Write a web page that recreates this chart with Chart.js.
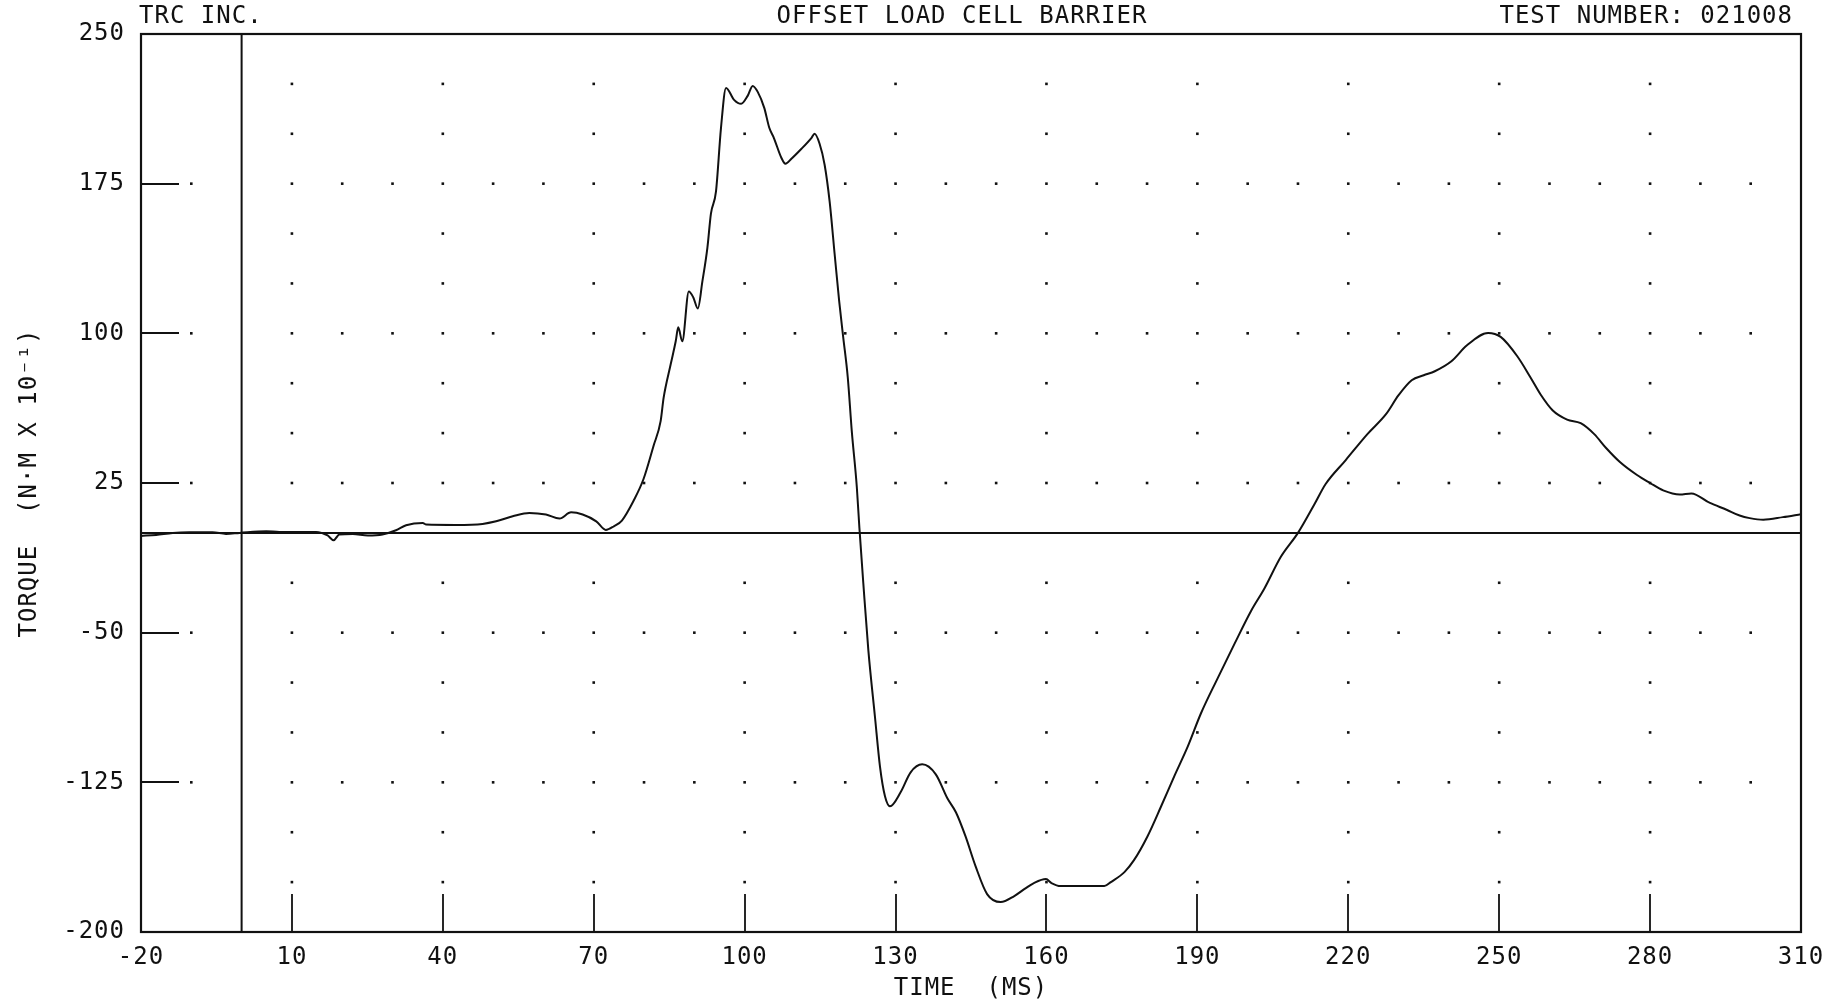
<!DOCTYPE html>
<html>
<head>
<meta charset="utf-8">
<title>Offset Load Cell Barrier - Torque</title>
<script src="https://cdn.jsdelivr.net/npm/chart.js@4.4.1/dist/chart.umd.min.js"></script>
<style>
  html, body { margin: 0; padding: 0; background: #fff; }
  canvas { display: block; }
</style>
</head>
<body>
<canvas id="torque-canvas" width="1846" height="1003"></canvas>
<script>
// time (ms) and torque (N*m x 10^-1) samples of the trace
var timeMs = [
  -20, -17, -13.7, -10.4, -5.8, -3.1, -0.4, 4.9, 7.5, 14.8,
  17.1, 18.3, 19.4, 22.1, 25.1, 28, 30.7, 32.7, 36, 36.7,
  42.6, 47.9, 50.6, 53.9, 57.2, 60.5, 63.2, 65.5, 67.8, 70.5,
  72.4, 74, 75.6, 77.9, 79.9, 81.9, 83.3, 83.9, 85.3, 86.3,
  86.8, 87.6, 88.9, 89.8, 90.7, 91.6, 92.6, 93.3, 94.3, 95.3,
  96.3, 97.9, 99.3, 100.6, 101.6, 102.6, 103.9, 104.9, 105.8, 107.3,
  108.1, 109.3, 111.3, 113.3, 113.9, 114.9, 115.9, 116.9, 117.9, 118.8,
  119.6, 120.5, 121.3, 122.3, 122.8, 123.6, 124.6, 125.9, 126.9, 127.9,
  128.9, 131, 133, 135.3, 138, 140.3, 142, 143.9, 145.9, 148.2,
  150.9, 153.6, 155.9, 157.5, 159.9, 161, 162.8, 166.8, 171.5, 172.8,
  175.5, 177.4, 180.1, 182.8, 185.4, 188.1, 190.7, 194, 197.4, 200.7,
  203.3, 206.6, 210, 213.3, 215.5, 219.5, 223.8, 227.5, 230, 232.6,
  235, 237.2, 240.5, 243.6, 247.8, 250.3, 253.6, 256.2, 258.2, 260.6,
  263.5, 266.2, 268.9, 271.3, 274, 277.4, 280, 282.6, 285.9, 288.2,
  291.9, 295.2, 297.8, 299.8, 302.5, 306.4, 310
];
var torque = [
  -1.5, -1, 0, 0.3, 0.3, -0.5, 0, 0.8, 0.5, 0.5,
  -1.3, -3.7, -0.8, -0.5, -1.3, -0.8, 1.3, 3.8, 5, 4.2,
  4, 4.5, 5.8, 8.3, 10, 9.2, 7.2, 10.3, 9.2, 5.8,
  1.5, 3.3, 6.2, 16, 27, 43.7, 56, 67.8, 84.5, 96,
  103, 96, 121, 118, 112.5, 126, 143, 160, 171, 203,
  223, 217, 215, 219, 224, 221, 213, 203, 198, 188,
  185, 187.5, 192.5, 198, 200, 195, 184.5, 166, 139.5, 116,
  98, 78, 51, 23, 3, -25.5, -59, -92, -117, -132,
  -137, -130, -120, -116, -121, -133, -140, -152, -167, -181,
  -185, -182, -178, -175.5, -173.5, -175.5, -177, -177, -177, -175,
  -170, -164, -152, -137, -122, -107, -90.5, -73, -55.5, -39,
  -28, -12, 0, 14.5, 24.5, 36.5, 49.5, 59.5, 69, 76.5,
  79, 81, 86, 94, 100.2, 98.2, 88.5, 78, 69.5, 61.5,
  56.8, 55, 49.5, 42.4, 35.5, 29, 25, 21.3, 19.2, 19.8,
  15, 11.6, 8.7, 7.4, 6.6, 7.9, 9.4
];

var xTickValues = [-20, 10, 40, 70, 100, 130, 160, 190, 220, 250, 280, 310];
var yTickValues = [-200, -125, -50, 25, 100, 175, 250];

// short tick marks drawn inside the frame
var xTickMarks = [10, 40, 70, 100, 130, 160, 190, 220, 250, 280];
var yTickMarks = [175, 100, 25, -50, -125];

// dot grid: labelled rows get a dot every 10 ms, the others only every 30 ms
var denseDotRows = [175, 100, 25, -50, -125];
var sparseDotRows = [225, 200, 150, 125, 75, 50, -25, -75, -100, -150, -175];
var denseDotCols = [-10, 10, 20, 30, 40, 50, 60, 70, 80, 90, 100, 110, 120, 130, 140, 150,
  160, 170, 180, 190, 200, 210, 220, 230, 240, 250, 260, 270, 280, 290, 300];
var sparseDotCols = [10, 40, 70, 100, 130, 160, 190, 220, 250, 280];

var headerLeft = "TRC INC.";
var headerCenter = "OFFSET LOAD CELL BARRIER";
var headerRight = "TEST NUMBER: 021008";

var INK = "#111";
var FONT = '"DejaVu Sans Mono", monospace';
var FONT_SIZE = 24;

Chart.defaults.font.family = FONT;
Chart.defaults.color = INK;

var points = [];
for (var i = 0; i < timeMs.length; i++) {
  points.push({ x: timeMs[i], y: torque[i] });
}

var plotterDecor = {
  id: "plotterDecor",
  beforeDraw: function(chart) {
    var ctx = chart.ctx;
    ctx.save();
    ctx.fillStyle = "#fff";
    ctx.fillRect(0, 0, chart.width, chart.height);
    ctx.restore();
    ctx.letterSpacing = "1px";
  },
  beforeDatasetsDraw: function(chart) {
    var ctx = chart.ctx;
    var xs = chart.scales.x, ys = chart.scales.y;
    var area = chart.chartArea;
    var tickLen = 38;
    ctx.save();

    // dots
    ctx.fillStyle = INK;
    function dot(t, v) {
      var px = xs.getPixelForValue(t), py = ys.getPixelForValue(v);
      ctx.fillRect(px - 1.3, py - 1.3, 2.6, 2.6);
    }
    denseDotRows.forEach(function(v) { denseDotCols.forEach(function(t) { dot(t, v); }); });
    sparseDotRows.forEach(function(v) { sparseDotCols.forEach(function(t) { dot(t, v); }); });

    ctx.strokeStyle = INK;
    ctx.lineWidth = 1.8;
    ctx.beginPath();
    xTickMarks.forEach(function(t) {
      var px = Math.round(xs.getPixelForValue(t));
      ctx.moveTo(px, area.bottom);
      ctx.lineTo(px, area.bottom - tickLen);
    });
    yTickMarks.forEach(function(v) {
      var py = Math.round(ys.getPixelForValue(v));
      ctx.moveTo(area.left, py);
      ctx.lineTo(area.left + tickLen, py);
    });
    ctx.stroke();

    // zero reference lines
    ctx.lineWidth = 2;
    ctx.beginPath();
    var y0 = ys.getPixelForValue(0);
    ctx.moveTo(area.left, y0);
    ctx.lineTo(area.right, y0);
    var x0 = xs.getPixelForValue(0);
    ctx.moveTo(x0, area.top);
    ctx.lineTo(x0, area.bottom);
    ctx.stroke();
    ctx.restore();
  },
  afterDatasetsDraw: function(chart) {
    var ctx = chart.ctx;
    var area = chart.chartArea;
    ctx.save();
    ctx.strokeStyle = INK;
    ctx.lineWidth = 2.2;
    ctx.strokeRect(area.left, area.top, area.right - area.left, area.bottom - area.top);
    ctx.restore();
  },
  afterDraw: function(chart) {
    var ctx = chart.ctx;
    var area = chart.chartArea;
    ctx.save();
    ctx.fillStyle = INK;
    ctx.font = FONT_SIZE + "px " + FONT;
    ctx.textBaseline = "middle";
    ctx.textAlign = "left";
    ctx.fillText(headerLeft, area.left - 2, 17);
    ctx.textAlign = "center";
    ctx.fillText(headerCenter, (area.left + area.right) / 2 - 9, 17);
    ctx.textAlign = "right";
    ctx.fillText(headerRight, area.right - 8, 17);
    ctx.restore();
  }
};

new Chart(document.getElementById("torque-canvas"), {
  type: "line",
  data: {
    datasets: [{
      label: "Torque",
      data: points,
      borderColor: INK,
      borderWidth: 2,
      pointRadius: 0,
      cubicInterpolationMode: "monotone",
      fill: false
    }]
  },
  options: {
    responsive: false,
    animation: false,
    parsing: false,
    layout: { padding: { top: 34, right: 45, bottom: 0, left: 0 } },
    plugins: {
      legend: { display: false },
      tooltip: { enabled: false }
    },
    scales: {
      x: {
        type: "linear",
        min: -20,
        max: 310,
        grid: { display: false, drawTicks: false },
        border: { display: false },
        afterBuildTicks: function(scale) {
          scale.ticks = xTickValues.map(function(v) { return { value: v }; });
        },
        afterFit: function(scale) { scale.height = 71; },
        ticks: {
          autoSkip: false,
          maxRotation: 0,
          padding: 11,
          color: INK,
          font: { size: FONT_SIZE }
        },
        title: {
          display: true,
          text: "TIME  (MS)",
          color: INK,
          font: { size: FONT_SIZE },
          padding: { top: 0, bottom: 0 }
        }
      },
      y: {
        type: "linear",
        min: -200,
        max: 250,
        grid: { display: false, drawTicks: false },
        border: { display: false },
        afterBuildTicks: function(scale) {
          scale.ticks = yTickValues.map(function(v) { return { value: v }; });
        },
        afterFit: function(scale) { scale.width = 141; },
        ticks: {
          autoSkip: false,
          padding: 16,
          color: INK,
          font: { size: FONT_SIZE }
        },
        title: {
          display: true,
          text: "TORQUE  (N\u00B7M X 10\u207B\u00B9)",
          color: INK,
          font: { size: FONT_SIZE },
          padding: { top: 15, bottom: 0 }
        }
      }
    }
  },
  plugins: [plotterDecor]
});
</script>
</body>
</html>
